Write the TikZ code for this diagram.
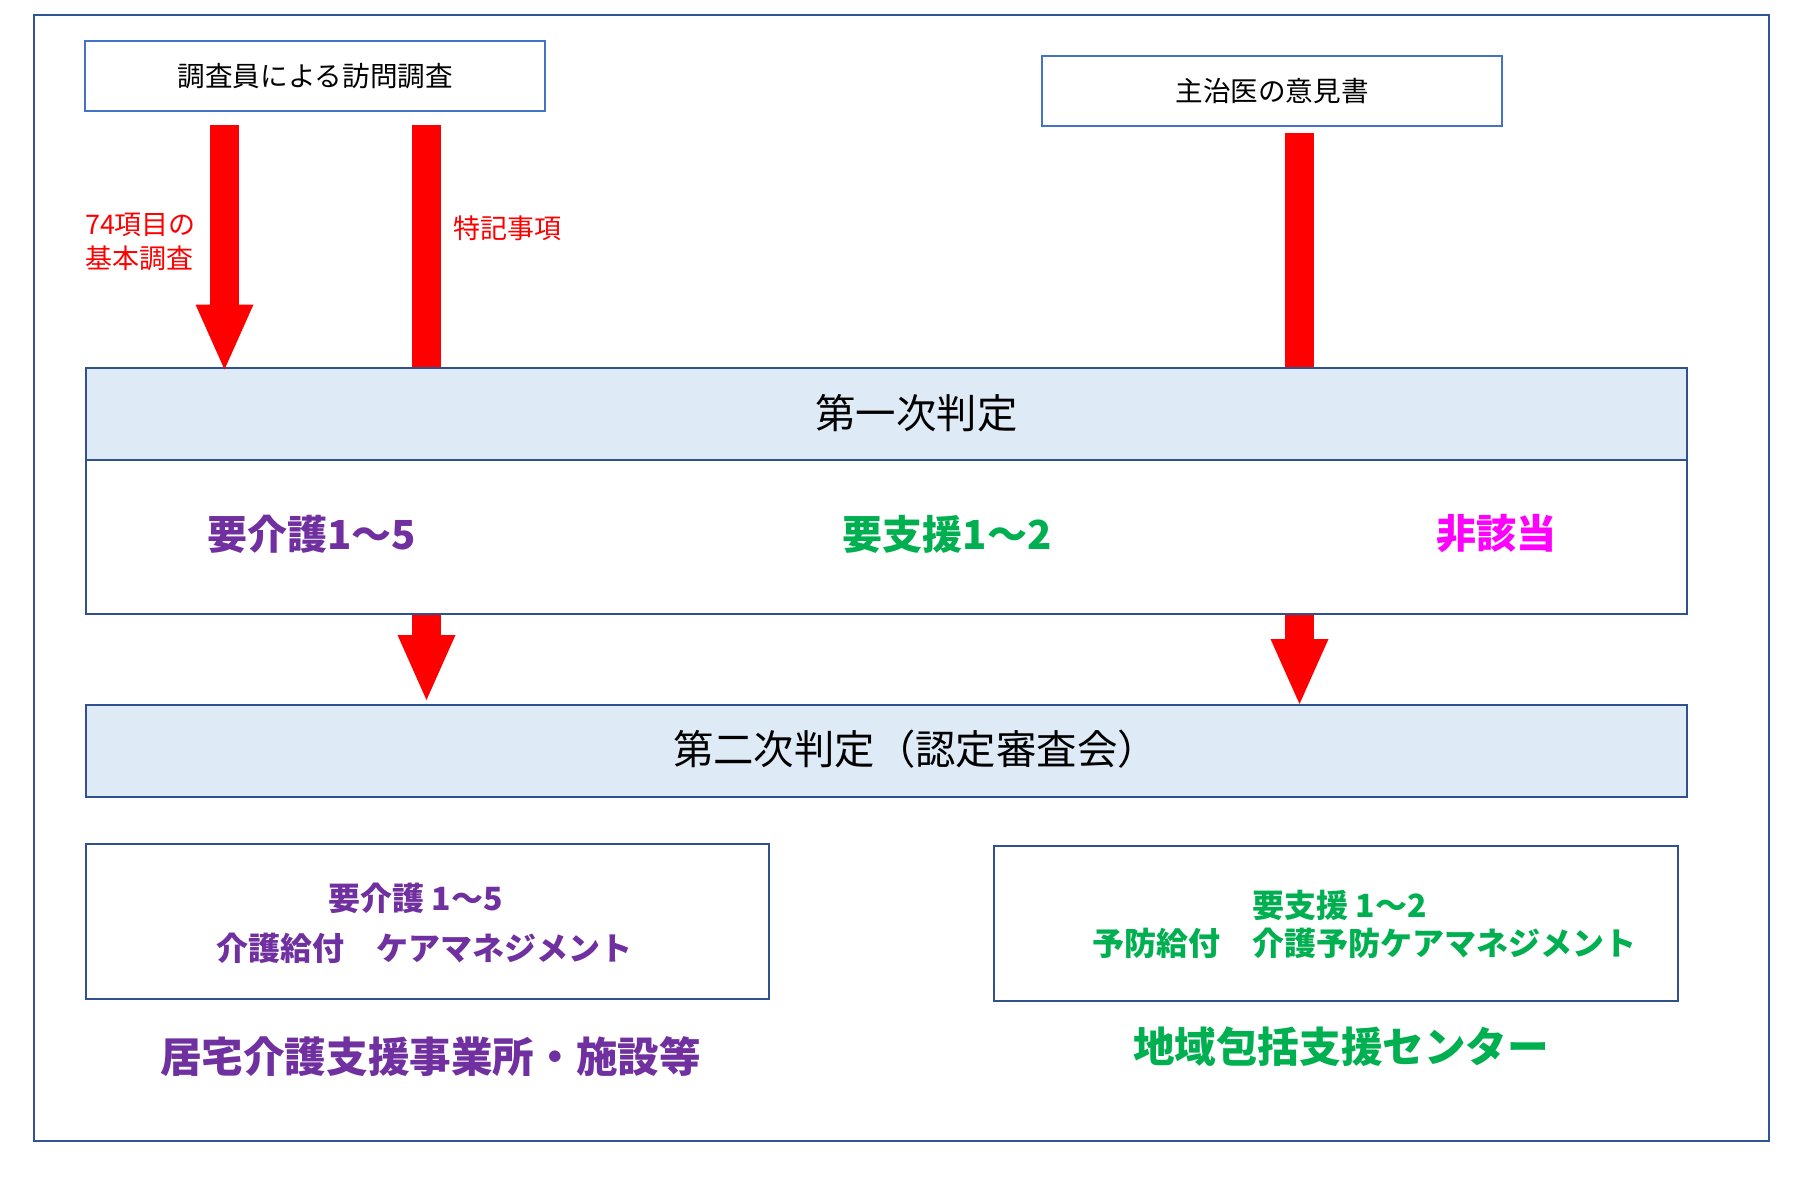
\documentclass[tikz,border=0pt]{standalone}
\usepackage{fontspec}
\setmainfont{Noto Sans CJK JP}
\usetikzlibrary{arrows.meta}
\definecolor{frameblue}{HTML}{2F5597}
\definecolor{boxblue}{HTML}{2F528F}
\definecolor{lightline}{HTML}{4472C4}
\definecolor{headfill}{HTML}{DEEBF7}
\definecolor{kpurple}{HTML}{7030A0}
\definecolor{kgreen}{HTML}{00B050}
\definecolor{kmagenta}{HTML}{FF00FF}
\definecolor{kred}{HTML}{FF0000}
\tikzset{
  srcbox/.style={draw=lightline, line width=0.8pt, fill=white, inner sep=0pt,
    minimum width=230pt, minimum height=35pt,
    font=\fontsize{13.8pt}{16.6pt}\selectfont},
  bigbox/.style={draw=boxblue, line width=1pt, inner sep=0pt, minimum width=800.5pt},
  headbox/.style={bigbox, fill=headfill, minimum height=46pt},
  resbox/.style={draw=boxblue, line width=1pt, fill=white, inner sep=0pt, minimum height=77.7pt},
  txt/.style={inner sep=0pt, outer sep=0pt},
  headtxt/.style={txt, font=\fontsize{20.2pt}{24pt}\selectfont},
  redlbl/.style={txt, text=kred, font=\fontsize{13.5pt}{16.75pt}\selectfont},
  restxt/.style={txt, font=\bfseries\fontsize{20pt}{24pt}\selectfont},
  subtxt/.style={txt, font=\bfseries\fontsize{16pt}{19pt}\selectfont},
  captxt/.style={txt, font=\bfseries\fontsize{20.8pt}{25pt}\selectfont},
  redbar/.style={draw=kred, line width=14.5pt},
  redarrow/.style={redbar, -{Triangle[width=29pt,length=32.5pt,line width=0pt]}},
}
\begin{document}
\begin{tikzpicture}[x=0.5pt,y=-0.5pt]
\useasboundingbox (0,0) rectangle (1805,1184);
\fill[white] (0,0) rectangle (1805,1184);
% outer frame
\draw[frameblue, line width=1pt] (33.5,15) rectangle (1769,1141);

% source boxes
\node[srcbox] (survey) at (315.25,76) {調査員による訪問調査};
\node[srcbox] (doctor) at (1272,91) {主治医の意見書};

% first judgement
\node[headbox] (h1) at (886.5,413.5) {};
\node[bigbox, minimum height=77pt] (b1) at (886.5,536.5) {};
\node[headtxt] (h1t) at (916.5,413) {第一次判定};
\node[restxt, text=kpurple] (r1) at (311.5,534) {要介護1～5};
\node[restxt, text=kgreen] (r2) at (947,534) {要支援1～2};
\node[restxt, text=kmagenta] (r3) at (1496,534) {非該当};

% second judgement
\node[headbox] (h2) at (886.5,751) {};
\node[headtxt] (h2t) at (915.5,749) {第二次判定（認定審査会）};

% result boxes
\node[resbox, minimum width=341.35pt] (bl) at (427.65,921.25) {};
\node[resbox, minimum width=342.25pt] (br) at (1335.75,923.35) {};
\node[subtxt, text=kpurple] (bl1) at (415.5,898) {要介護 1～5};
\node[subtxt, text=kpurple] (bl2) at (424.5,948) {介護給付　ケアマネジメント};
\node[subtxt, text=kgreen] (br1) at (1339.5,905) {要支援 1～2};
\node[subtxt, text=kgreen] (br2) at (1364.5,943.5) {予防給付　介護予防ケアマネジメント};
\node[captxt, text=kpurple] (cap1) at (430.5,1057) {居宅介護支援事業所・施設等};
\node[captxt, text=kgreen] (cap2) at (1341,1047) {地域包括支援センター};

% red labels
\node[redlbl, align=left] (lab1) at (140.5,242) {74項目の\\基本調査};
\node[redlbl] (lab2) at (507,228.5) {特記事項};

% arrows and bars
\coordinate (a1) at (224.5,125);
\coordinate (a2) at (426.3,125);
\coordinate (a3) at (1299.5,133);
\draw[redarrow] (a1) -- ([yshift=-1.5pt]a1 |- h1.north);
\draw[redbar] (a2) -- (a2 |- h1.north);
\draw[redbar] (a3) -- (a3 |- h1.north);
\coordinate (a4) at (426.5,700);
\coordinate (a5) at (1299.5,704);
\draw[redarrow] (a4 |- b1.south) -- (a4);
\draw[redarrow] (a5 |- b1.south) -- (a5);
\end{tikzpicture}
\end{document}
